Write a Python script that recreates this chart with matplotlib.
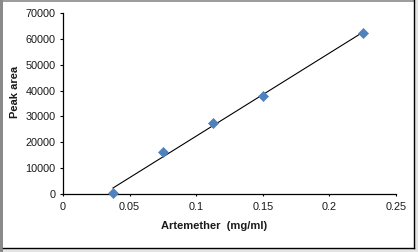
import numpy as np
import matplotlib
matplotlib.use("Agg")
import matplotlib.pyplot as plt
from matplotlib.patches import Rectangle
from matplotlib.lines import Line2D

conc = [0.0375, 0.075, 0.1125, 0.15, 0.225]
peak_area = [400, 16300, 27400, 37800, 62100]
xticks = [0, 0.05, 0.1, 0.15, 0.2, 0.25]
xticklabels = ["0", "0.05", "0.1", "0.15", "0.2", "0.25"]
yticks = [0, 10000, 20000, 30000, 40000, 50000, 60000, 70000]

plt.rcParams['font.family'] = ['Liberation Sans', 'DejaVu Sans']

W, H = 418, 252
fig = plt.figure(figsize=(W / 100, H / 100), dpi=100)
fig.patch.set_facecolor('white')

# frame decorations
fig.patches.append(Rectangle((415 / W, 0), 3 / W, 1, transform=fig.transFigure,
                             facecolor='#e4e4e4', edgecolor='none', zorder=0))
fig.patches.append(Rectangle((0, 0), 1, 3 / H, transform=fig.transFigure,
                             facecolor='#e4e4e4', edgecolor='none', zorder=0))
fig.patches.append(Rectangle((0, 0), 2.5 / W, 1, transform=fig.transFigure,
                             facecolor='#8a8a8a', edgecolor='none', zorder=1))
fig.lines.append(Line2D([0, 414 / W], [1 - 0.5 / H, 1 - 0.5 / H], transform=fig.transFigure,
                        color='#8a8a8a', lw=1.2))
fig.lines.append(Line2D([414 / W, 414 / W], [4 / H, 1], transform=fig.transFigure,
                        color='black', lw=1.0))
fig.lines.append(Line2D([2.5 / W, 414 / W], [4 / H, 4 / H], transform=fig.transFigure,
                        color='black', lw=1.0))

ax = fig.add_axes([63 / W, 1 - 194 / H, (396 - 63) / W, (194 - 13) / H])
ax.set_xlim(0, 0.25)
ax.set_ylim(0, 70000)

# trend line (linear fit)
m, b = np.polyfit(conc, peak_area, 1)
xs = np.array([conc[0], conc[-1]])
ax.plot(xs, m * xs + b, color='black', lw=0.8, zorder=2)

ax.scatter(conc, peak_area, marker='D', s=26, color='#4f81bd', edgecolors='#4f81bd',
           linewidths=0.5, zorder=3, clip_on=False)

ax.set_xticks(xticks)
ax.set_xticklabels(xticklabels)
ax.set_yticks(yticks)
ax.tick_params(axis='both', labelsize=7.8, length=2.5, width=0.8, direction='out', pad=3,
               labelcolor='#1a1a1a')
ax.tick_params(axis='x', length=1.5, pad=4)
for s in ['top', 'right']:
    ax.spines[s].set_visible(False)
for s in ['left', 'bottom']:
    ax.spines[s].set_linewidth(0.9)

fig.text(214 / W, 1 - 226 / H, 'Artemether  (mg/ml)', fontsize=8, fontweight='bold',
         ha='center', va='center', color='#1a1a1a')
fig.text(15 / W, 1 - 92 / H, 'Peak area', fontsize=8, fontweight='bold',
         ha='center', va='center', rotation=90, color='#1a1a1a')

fig.savefig('out.png', dpi=100)
